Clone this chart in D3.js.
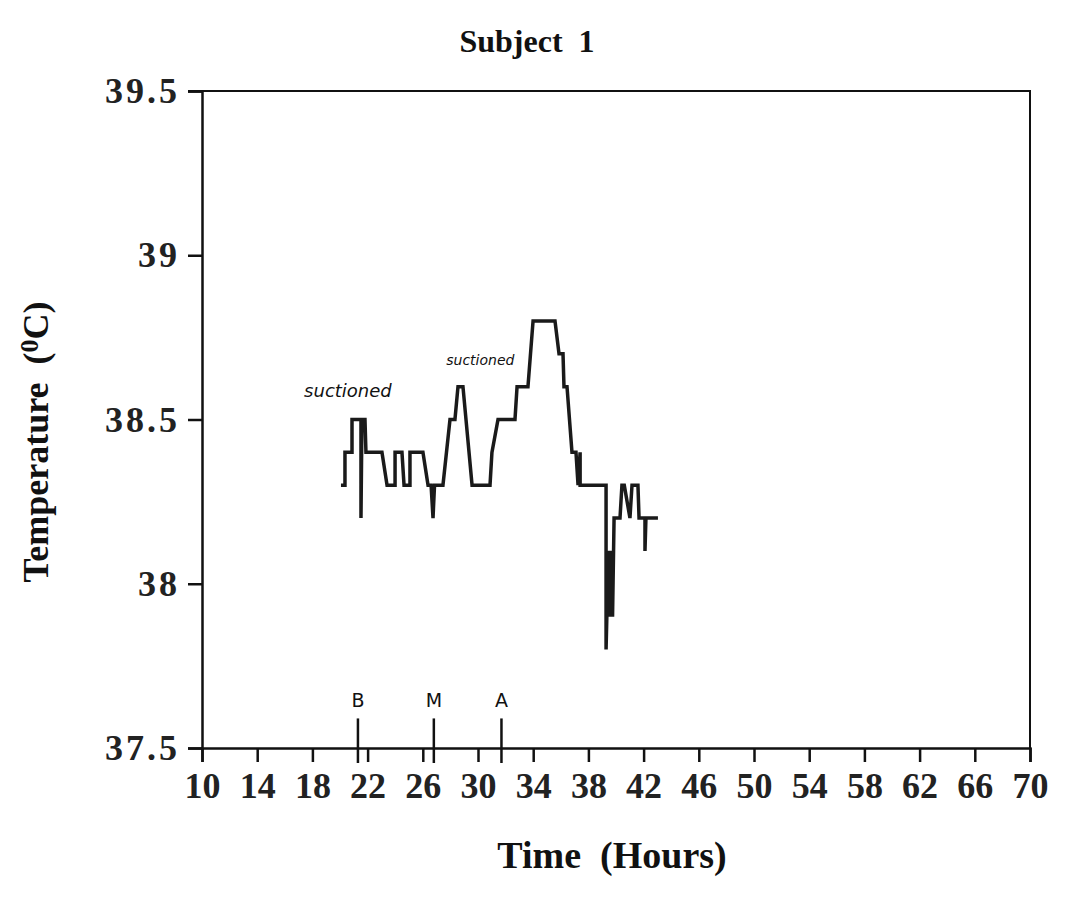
<!DOCTYPE html>
<html>
<head>
<meta charset="utf-8">
<script src="https://cdn.jsdelivr.net/npm/d3@7"></script>
<style>
  body { margin: 0; background: #fff; }
  svg text { font-family: "Liberation Serif", "Times New Roman", serif; }
</style>
</head>
<body>
<div id="chart"></div>
<script>
// temperature trace (hours, deg C), drawn as vertices
const times = [20.07, 20.36, 20.36, 20.87, 20.87, 21.52, 21.52, 21.59, 21.81, 21.88,
  23.04, 23.41, 23.99, 23.99, 24.49, 24.64, 25.07, 25.07, 26.01, 26.38,
  26.6, 26.74, 26.85, 27.46, 27.97, 28.33, 28.55, 28.91, 29.57, 30.87,
  31.01, 31.45, 32.68, 32.83, 33.62, 33.99, 35.58, 35.87, 36.16, 36.23,
  36.45, 36.81, 37.1, 37.25, 37.4, 37.4, 39.28, 39.28, 39.45, 39.55,
  39.65, 39.75, 39.86, 40.29, 40.43, 40.6, 41.01, 41.16, 41.59, 41.67,
  42.1, 42.1, 42.17, 43.04];
const temps = [38.3, 38.3, 38.4, 38.4, 38.5, 38.5, 38.2, 38.5, 38.5, 38.4,
  38.4, 38.3, 38.3, 38.4, 38.4, 38.3, 38.3, 38.4, 38.4, 38.3,
  38.3, 38.2, 38.3, 38.3, 38.5, 38.5, 38.6, 38.6, 38.3, 38.3,
  38.4, 38.5, 38.5, 38.6, 38.6, 38.8, 38.8, 38.7, 38.7, 38.6,
  38.6, 38.4, 38.4, 38.3, 38.4, 38.3, 38.3, 37.8, 38.1, 37.9,
  38.1, 37.9, 38.2, 38.2, 38.3, 38.3, 38.2, 38.3, 38.3, 38.2,
  38.2, 38.1, 38.2, 38.2];

const xTickValues = [10, 14, 18, 22, 26, 30, 34, 38, 42, 46, 50, 54, 58, 62, 66, 70];
const yTickValues = [37.5, 38, 38.5, 39, 39.5];

// event markers along the bottom
const markerLabels = ['B', 'M', 'A'];
const markerTimes = [21.3, 26.8, 31.7];

// handwritten notes
const noteTexts = ['suctioned', 'suctioned'];
const noteTimes = [17.4, 27.7];
const noteTemps = [38.57, 38.665];
const noteSizes = [18, 14];

const width = 1083;
const height = 901;

const svg = d3.select('#chart')
  .append('svg')
  .attr('width', width)
  .attr('height', height);

svg.append('rect').attr('width', width).attr('height', height).attr('fill', '#fff');

const x = d3.scaleLinear().domain([10, 70]).range([202, 1030]);
const y = d3.scaleLinear().domain([37.5, 39.5]).range([748, 91]);

// frame: top and right edges
svg.append('path')
  .attr('d', `M${x(10) - 14},${y(39.5)}H${x(70)}V${y(37.5)}`)
  .attr('fill', 'none')
  .attr('stroke', '#111')
  .attr('stroke-width', 2);

// x axis
const xAxis = svg.append('g')
  .attr('transform', `translate(0,${y(37.5)})`)
  .call(d3.axisBottom(x).tickValues(xTickValues).tickSize(14).tickPadding(10).tickFormat(d3.format('d')));

// y axis
const yAxis = svg.append('g')
  .attr('transform', `translate(${x(10)},0)`)
  .call(d3.axisLeft(y).tickValues(yTickValues).tickSize(14).tickPadding(6).tickFormat(d => String(d)));

[xAxis, yAxis].forEach(g => {
  g.select('.domain').attr('stroke', '#111').attr('stroke-width', 2.5);
  g.selectAll('.tick line').attr('stroke', '#111').attr('stroke-width', 2.5);
  g.selectAll('.tick text')
    .attr('fill', '#222')
    .style('font-family', '"Liberation Serif", serif')
    .style('font-weight', 'bold')
    .style('font-size', '36px');
});
xAxis.selectAll('.tick text').attr('dy', '0.71em');
yAxis.selectAll('.tick text').style('letter-spacing', '3px').attr('dx', '-2px');

// temperature trace
const line = d3.line()
  .x((d, i) => x(times[i]))
  .y(d => y(d));

svg.append('path')
  .datum(temps)
  .attr('d', line)
  .attr('fill', 'none')
  .attr('stroke', '#1a1a1a')
  .attr('stroke-width', 3.5)
  .attr('stroke-linejoin', 'miter');

// B / M / A markers
const markers = svg.append('g');
markerTimes.forEach((t, i) => {
  markers.append('line')
    .attr('x1', x(t)).attr('x2', x(t))
    .attr('y1', y(37.59)).attr('y2', y(37.5) + 15)
    .attr('stroke', '#111')
    .attr('stroke-width', 2.5);
  markers.append('text')
    .attr('x', x(t))
    .attr('y', y(37.59) - 11)
    .attr('text-anchor', 'middle')
    .style('font-family', '"DejaVu Sans", sans-serif')
    .style('font-size', '19px')
    .attr('fill', '#111')
    .text(markerLabels[i]);
});

// notes
noteTexts.forEach((txt, i) => {
  svg.append('text')
    .attr('x', x(noteTimes[i]))
    .attr('y', y(noteTemps[i]))
    .style('font-family', '"DejaVu Sans", sans-serif')
    .style('font-style', 'italic')
    .style('font-size', noteSizes[i] + 'px')
    .attr('fill', '#111')
    .text(txt);
});

// title
svg.append('text')
  .attr('x', 527)
  .attr('y', 52)
  .attr('text-anchor', 'middle')
  .style('font-weight', 'bold')
  .style('font-size', '32px')
  .attr('fill', '#111')
  .style('white-space', 'pre')
  .text('Subject  1');

// x label
svg.append('text')
  .attr('x', 612)
  .attr('y', 868)
  .attr('text-anchor', 'middle')
  .style('font-weight', 'bold')
  .style('font-size', '38px')
  .attr('fill', '#111')
  .style('white-space', 'pre')
  .text('Time  (Hours)');

// y label
const yLabel = svg.append('text')
  .attr('transform', 'translate(48,442) rotate(-90)')
  .attr('text-anchor', 'middle')
  .style('font-weight', 'bold')
  .style('font-size', '36px')
  .attr('fill', '#111')
  .style('white-space', 'pre');
yLabel.append('tspan').text('Temperature  (');
yLabel.append('tspan').attr('dy', -10).style('font-size', '26px').text('0');
yLabel.append('tspan').attr('dy', 10).text('C)');
</script>
</body>
</html>
